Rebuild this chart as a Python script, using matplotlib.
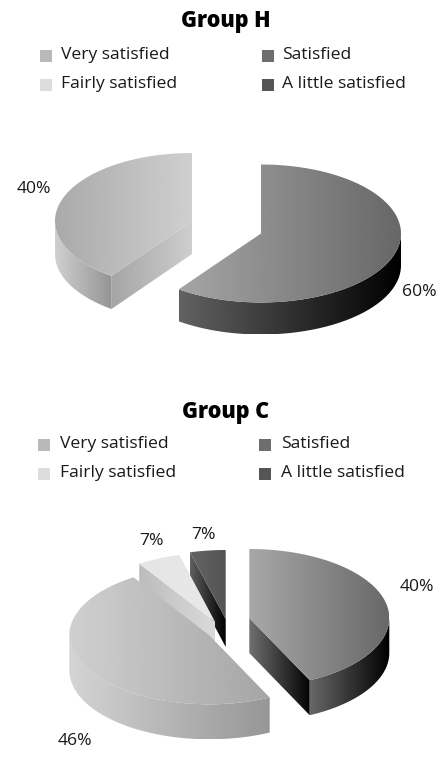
import numpy as np
import matplotlib
matplotlib.use("Agg")
import matplotlib.pyplot as plt
from matplotlib.patches import PathPatch, Rectangle
from matplotlib.path import Path

plt.rcParams['font.family'] = ['Open Sans', 'DejaVu Sans']

legend_labels = ["Very satisfied", "Satisfied", "Fairly satisfied", "A little satisfied"]
legend_greys = [185, 110, 221, 85]

group_h_title = "Group H"
group_h_labels = ["60%", "40%"]
group_h_sweep = [60, 40]  # share of the circle, as drawn

group_c_title = "Group C"
group_c_labels = ["40%", "46%", "7%", "7%"]
group_c_sweep = [42.9, 48.0, 5.0, 4.1]  # as drawn, not quite the printed labels

# layout, in image pixels
W, H = 446, 765
RX, RY = 140, 69

fig = plt.figure(figsize=(W / 100, H / 100), dpi=100)
ax = fig.add_axes([0, 0, 1, 1])
ax.set_xlim(0, W)
ax.set_ylim(H, 0)
ax.axis("off")


def arc(cx, cy, rx, ry, a, b, dy=0):
    t = np.radians(np.linspace(a, b, 80))
    return np.column_stack([cx + rx * np.sin(t), cy - ry * np.cos(t) + dy])


def fill_gradient(points, left, right, z):
    # horizontal grey ramp clipped to a polygon
    points = np.asarray(points)
    x0, x1 = points[:, 0].min(), points[:, 0].max()
    y0, y1 = points[:, 1].min(), points[:, 1].max()
    ramp = np.linspace(left, right, 256)[None, :]
    im = ax.imshow(ramp, cmap="gray", vmin=0, vmax=255, aspect="auto",
                   extent=[x0, x1, y1, y0], zorder=z, interpolation="bilinear")
    patch = PathPatch(Path(np.vstack([points, points[:1]])), transform=ax.transData,
                      facecolor="none", edgecolor="none")
    ax.add_patch(patch)
    im.set_clip_path(patch)


def draw_slice(cx, cy, a, b, top, rim, face, depth, z, rx=RX, ry=RY):
    # the cut side faces the viewer only on one end of the wedge
    if face is not None:
        for ang, show in ((a, np.sin(np.radians(a)) < -1e-6), (b, np.sin(np.radians(b)) > 1e-6)):
            if show:
                edge = arc(cx, cy, rx, ry, ang, ang)[0]
                fill_gradient([(cx, cy), edge, edge + (0, depth), (cx, cy + depth)],
                              face[0], face[1], z)
    lo, hi = max(a, 90), min(b, 270)
    if rim is not None and hi > lo:
        fill_gradient(np.vstack([arc(cx, cy, rx, ry, lo, hi),
                                 arc(cx, cy, rx, ry, hi, lo, depth)]), rim[0], rim[1], z)
    fill_gradient(np.vstack([[(cx, cy)], arc(cx, cy, rx, ry, a, b)]), top[0], top[1], z + 0.5)


def draw_header(title, y_title, y_rows, square_x, text_x):
    ax.text(226, y_title, title, ha="center", va="center", fontsize=15.5,
            fontweight="extra bold", color="black")
    for i, (lab, g) in enumerate(zip(legend_labels, legend_greys)):
        col = i % 2
        y = y_rows[i // 2]
        c = (g / 255, g / 255, g / 255 + 0.01)
        ax.add_patch(Rectangle((square_x[col], y - 5), 12, 12, facecolor=c, edgecolor="none"))
        ax.text(text_x[col], y, lab, ha="left", va="center", fontsize=12.6, color="#1a1a1a")


def cumulative(sweep):
    edges = np.concatenate([[0], np.cumsum(sweep)]) * 3.6
    return list(zip(edges[:-1], edges[1:]))


# Group H
draw_header(group_h_title, 21, [55, 84], [40, 262], [61, 282])
h_angles = cumulative(group_h_sweep)
draw_slice(261, 233.5, *h_angles[0], top=(165, 103), rim=(98, 0), face=None, depth=32, z=2)
draw_slice(192, 221, *h_angles[1], top=(170, 207), rim=(208, 148), face=(165, 206), depth=33,
           z=2, rx=137, ry=68)
for lab, x, y in zip(group_h_labels, [402, 17], [292, 189]):
    ax.text(x, y, lab, ha="left", va="center", fontsize=12.6, color="#1a1a1a")

# Group C
draw_header(group_c_title, 412, [444, 473], [38, 259], [60, 281])
c_angles = cumulative(group_c_sweep)
draw_slice(225.7, 619, *c_angles[3], top=(100, 84), rim=None, face=(95, 0), depth=28, z=2)
draw_slice(215, 621.7, *c_angles[2], top=(228, 232), rim=None, face=(188, 218), depth=35, z=3)
draw_slice(209.3, 635.3, *c_angles[1], top=(208, 165), rim=(212, 150), face=None, depth=35, z=4)
draw_slice(249.3, 618, *c_angles[0], top=(168, 104), rim=(104, 0), face=(112, 4), depth=35, z=4)
for lab, x, y in zip(group_c_labels, [400, 58, 139, 191], [587, 741, 541, 535]):
    ax.text(x, y, lab, ha="left", va="center", fontsize=12.6, color="#1a1a1a")

ax.set_xlim(0, W)
ax.set_ylim(H, 0)
fig.savefig("out.png", dpi=100)
